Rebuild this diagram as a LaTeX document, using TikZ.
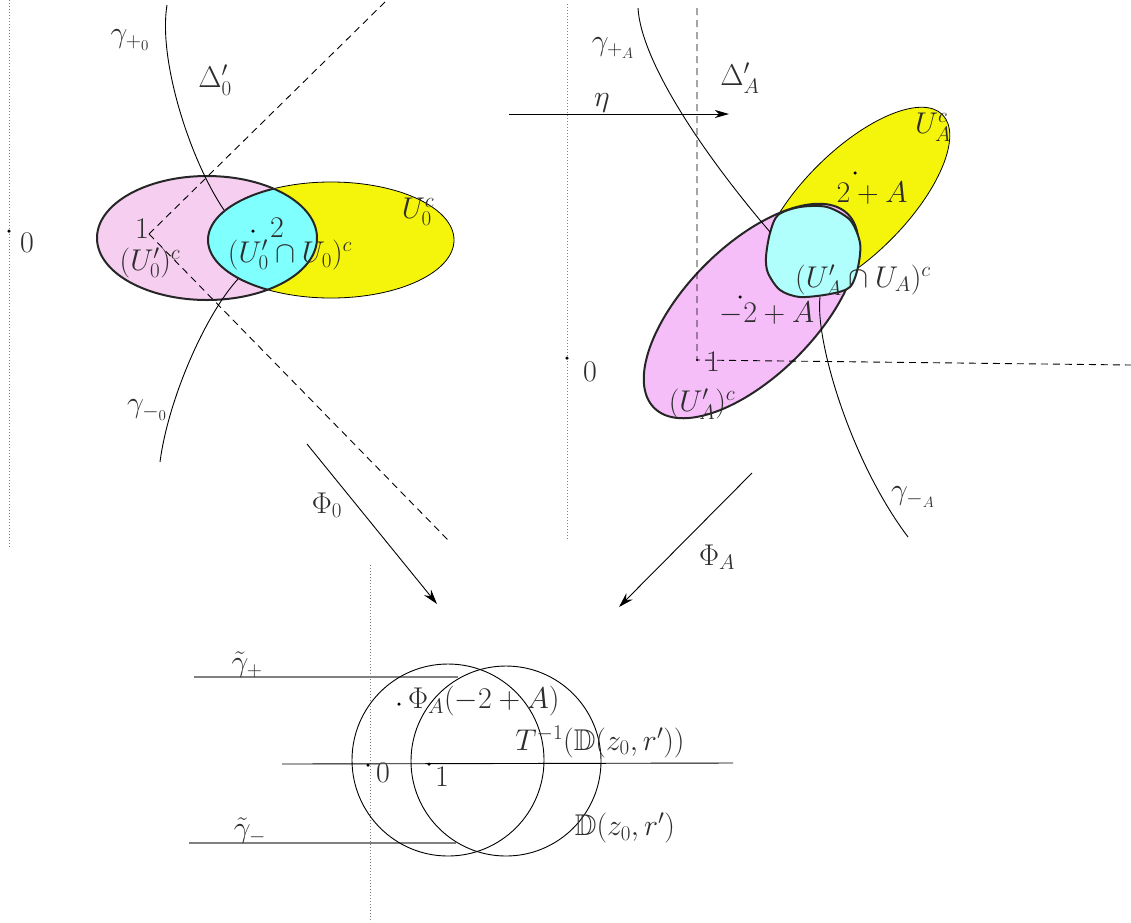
\RequirePackage{fix-cm}
\documentclass[tikz,border=0pt]{standalone}
\usepackage{amssymb}
\usetikzlibrary{arrows.meta}
\definecolor{pinkL}{RGB}{245,206,240}
\definecolor{pinkR}{RGB}{246,190,248}
\definecolor{yelF}{RGB}{245,245,12}
\definecolor{cyanL}{RGB}{128,255,255}
\definecolor{cyanR}{RGB}{176,255,252}
\definecolor{txt}{RGB}{45,45,45}
\begin{document}
\begin{tikzpicture}[x=1pt,y=-1pt,
  lbl/.style={font=\fontsize{30}{36}\selectfont, text=txt, inner sep=0pt},
  thinb/.style={line width=0.8pt, draw=black},
  thickb/.style={line width=2pt, draw=black!85},
  dashln/.style={line width=0.9pt, dash pattern=on 7pt off 5pt},
  dotln/.style={line width=0.8pt, gray, dash pattern=on 0.8pt off 2.2pt},
  curve/.style={line width=0.9pt},
  maparrow/.style={line width=0.9pt, -{Stealth[length=15pt,width=9pt,inset=5pt]}},
  pt/.style={circle, fill=black, inner sep=0pt, minimum size=3.5pt}]
\useasboundingbox (0,0) rectangle (1131,922);

% ---------------- top-left panel ----------------
\draw[dotln] (9,0) -- (9,547);
\fill[pinkL] (207,238) ellipse [x radius=110, y radius=62];
\fill[yelF] (331,240) ellipse [x radius=123, y radius=58];
\draw[thinb] (331,240) ellipse [x radius=123, y radius=58];
\begin{scope}
  \clip (207,238) ellipse [x radius=110, y radius=62];
  \fill[cyanL] (331,240) ellipse [x radius=123, y radius=58];
  \draw[thickb] (331,240) ellipse [x radius=123, y radius=58];
\end{scope}
\draw[thickb] (207,238) ellipse [x radius=110, y radius=62];

\coordinate (one0) at (149,234);
\coordinate (dTR) at (385,2);
\coordinate (dBR) at (448,540);
\draw[dashln] (one0) -- (dTR);
\draw[dashln] (one0) -- (dBR);
\coordinate (gp0s) at (167,5);
\coordinate (gp0e) at (224,210);
\coordinate (gm0s) at (238,279);
\coordinate (gm0e) at (160,462);
\draw[curve] (gp0s) .. controls (158,60) and (190,160) .. (gp0e);
\draw[curve] (gm0s) .. controls (205,315) and (168,400) .. (gm0e);

\node[pt] (z0) at (9,231) {};
\node[lbl] (lz0) at (27,243) {$0$};
\node[lbl] (gp0) at (130,40) {$\gamma_{+_0}$};
\node[lbl] (D0) at (215,80) {$\Delta'_0$};
\node[lbl] (l1) at (142,229) {$1$};
\node[lbl] (Up0) at (150,263) {$(U'_0)^c$};
\node[lbl] (U0) at (418,212) {$U_0^c$};
\node[pt] (p2) at (253,231) {};
\node[lbl] (l2) at (277,228) {$2$};
\node[lbl] (UU0) at (290,255) {$(U'_0\cap U_0)^c$};
\node[lbl] (gm0) at (147,410) {$\gamma_{-_0}$};

\coordinate (phi0s) at (307,444);
\coordinate (phi0e) at (437,604);
\draw[maparrow] (phi0s) -- (phi0e);
\node[lbl] (Phi0) at (327,505) {$\Phi_0$};

% ---------------- top-right panel ----------------
\draw[dotln] (567,4) -- (567,540);
\fill[yelF, rotate around={45:(854,203)}] (854,203) ellipse [x radius=125, y radius=52];
\draw[thinb, rotate around={45:(854,203)}] (854,203) ellipse [x radius=125, y radius=52];
\fill[pinkR, rotate around={45:(751,311)}] (751,311) ellipse [x radius=137, y radius=65];
\draw[thickb, rotate around={45:(751,311)}] (751,311) ellipse [x radius=137, y radius=65];
\filldraw[thickb, fill=cyanR] plot[smooth cycle] coordinates {(778,215) (800,207) (827,207) (850,220) (860,243) (858,267) (850,287) (830,294) (800,297) (780,290) (768,273) (766,257) (770,233)};

\coordinate (cornerA) at (697,360);
\coordinate (dTop) at (697,8);
\coordinate (dRight) at (1131,365);
\draw[dashln] (dTop) -- (cornerA) -- (dRight);
\coordinate (gpAs) at (638,8);
\coordinate (gpAe) at (770,232);
\coordinate (gmAs) at (820,297);
\coordinate (gmAe) at (908,537);
\draw[curve] (gpAs) .. controls (641,60) and (700,150) .. (gpAe);
\draw[curve] (gmAs) .. controls (815,340) and (850,460) .. (gmAe);

\coordinate (etas) at (509,114);
\coordinate (etae) at (729,114);
\draw[line width=0.9pt, -{Stealth[length=14pt,width=8pt,inset=4pt]}] (etas) -- (etae);

\node[pt] (zA) at (567,358) {};
\node[lbl] (lzA) at (590,372) {$0$};
\node[lbl] (gpA) at (613,48) {$\gamma_{+_A}$};
\node[lbl] (DA) at (740,78) {$\Delta'_A$};
\node[lbl] (eta) at (602,103) {$\eta$};
\node[lbl] (UA) at (933,127) {$U_A^c$};
\node[pt] (p2A) at (855,173) {};
\node[lbl] (l2A) at (872,193) {$2+A$};
\node[lbl] (UUA) at (863,280) {$(U'_A\cap U_A)^c$};
\node[pt] (pm2A) at (740,297) {};
\node[lbl] (lm2A) at (767,313) {$-2+A$};
\node[pt, minimum size=2.5pt] (c1) at (697,360) {};
\node[lbl] (l1A) at (713,362) {$1$};
\node[lbl] (UpA) at (702,404) {$(U'_A)^c$};
\node[lbl] (gmA) at (913,497) {$\gamma_{-_A}$};

\coordinate (phiAs) at (752,473);
\coordinate (phiAe) at (619,607);
\draw[maparrow] (phiAs) -- (phiAe);
\node[lbl] (PhiA) at (717,557) {$\Phi_A$};

% ---------------- bottom panel ----------------
\draw[dotln] (370,565) -- (370,922);
\coordinate (gpl) at (194,677);
\coordinate (gpr) at (458,677);
\coordinate (gml) at (189,843);
\coordinate (gmr) at (456,843);
\coordinate (rl) at (282,764);
\coordinate (rr) at (733,763);
\draw[line width=1.6pt, gray] (gpl) -- (gpr);
\draw[line width=1.6pt, gray] (gml) -- (gmr);
\draw[line width=0.9pt] (rl) -- (rr);
\draw[line width=0.9pt] (448,760) circle [radius=96];
\draw[line width=0.9pt] (506,761) circle [radius=95];

\node[lbl] (tgp) at (247,665) {$\tilde\gamma_+$};
\node[lbl] (tgm) at (250,831) {$\tilde\gamma_-$};
\node[pt] (pPhi) at (399,704) {};
\node[lbl, anchor=west] (lPhi) at (408,701) {$\Phi_A(-2+A)$};
\node[lbl] (lT) at (600,742) {$T^{-1}(\mathbb{D}(z_0,r'))$};
\node[pt] (b0) at (368,765) {};
\node[lbl] (lb0) at (383,773) {$0$};
\node[pt] (b1) at (429,764) {};
\node[lbl] (lb1) at (442,777) {$1$};
\node[lbl] (lD) at (625,828) {$\mathbb{D}(z_0,r')$};
\end{tikzpicture}
\end{document}
